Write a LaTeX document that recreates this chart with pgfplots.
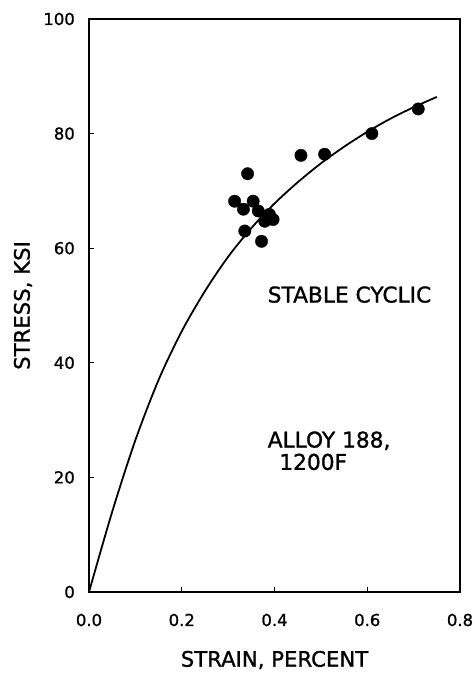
\documentclass[border=0pt]{standalone}
\usepackage{pgfplots}
\pgfplotsset{compat=1.18}
\usepackage{fontspec}
\setmainfont{DejaVu Sans}[FakeBold=1.2,AutoFakeBold=1.2]
\newfontfamily\lettering{DejaVu Sans}[FakeBold=1.2]
\begin{document}
\begin{tikzpicture}
\useasboundingbox (0,0) rectangle (475bp,673bp);
\begin{axis}[
  at={(89bp,81bp)}, anchor=south west,
  scale only axis, width=371bp, height=573bp,
  xmin=0, xmax=0.8, ymin=0, ymax=100,
  xtick={0,0.2,0.4,0.6,0.8},
  xticklabels={0.0,0.2,0.4,0.6,0.8},
  ytick={0,20,40,60,80,100},
  tick pos=left, tick align=inside,
  major tick length=5bp,
  axis line style={line width=2.2pt},
  every tick/.style={line width=1.2pt, black},
  /pgf/number format/assume math mode=true,
  ticklabel style={font=\lettering\fontsize{16.5}{19}\selectfont},
  xticklabel style={anchor=center, yshift=-28bp},
  yticklabel style={anchor=east, inner sep=0pt, xshift=-14bp},
  xlabel={STRAIN, PERCENT},
  ylabel={STRESS, KSI},
  label style={font=\lettering\fontsize{21.3}{25}\selectfont},
  xlabel style={at={(axis description cs:0.5,0)}, anchor=center, yshift=-68bp},
  ylabel style={at={(axis description cs:0,0.5)}, anchor=center, yshift=66bp},
  clip=false,
]
\addplot[black, line width=1.8pt, smooth] coordinates {
(0,0) (0.05,14) (0.1,26.5) (0.15,37) (0.2,45.5) (0.25,52.5) (0.3,58.5)
(0.35,63.5) (0.4,67.8) (0.45,71.5) (0.5,74.8) (0.55,77.7) (0.6,80.3)
(0.65,82.6) (0.7,84.6) (0.75,86.4)
};
\addplot[only marks, mark=*, mark size=6.2pt, black] coordinates {
(0.710,84.3) (0.610,80.0) (0.508,76.4) (0.457,76.2) (0.342,73.0)
(0.314,68.2) (0.333,66.8) (0.354,68.2) (0.365,66.5) (0.389,65.9)
(0.397,65.0) (0.379,64.7) (0.336,63.0) (0.372,61.2)
};
\node[anchor=west, font=\lettering\fontsize{21.8}{25}\selectfont, inner sep=0pt] at (axis cs:0.385,51.9) {STABLE CYCLIC};
\node[anchor=west, font=\lettering\fontsize{21.8}{25}\selectfont, inner sep=0pt] at (axis cs:0.385,26.4) {ALLOY 188,};
\node[anchor=west, font=\lettering\fontsize{21.8}{25}\selectfont, inner sep=0pt] at (axis cs:0.41,22.7) {1200F};
\end{axis}
\end{tikzpicture}
\end{document}
